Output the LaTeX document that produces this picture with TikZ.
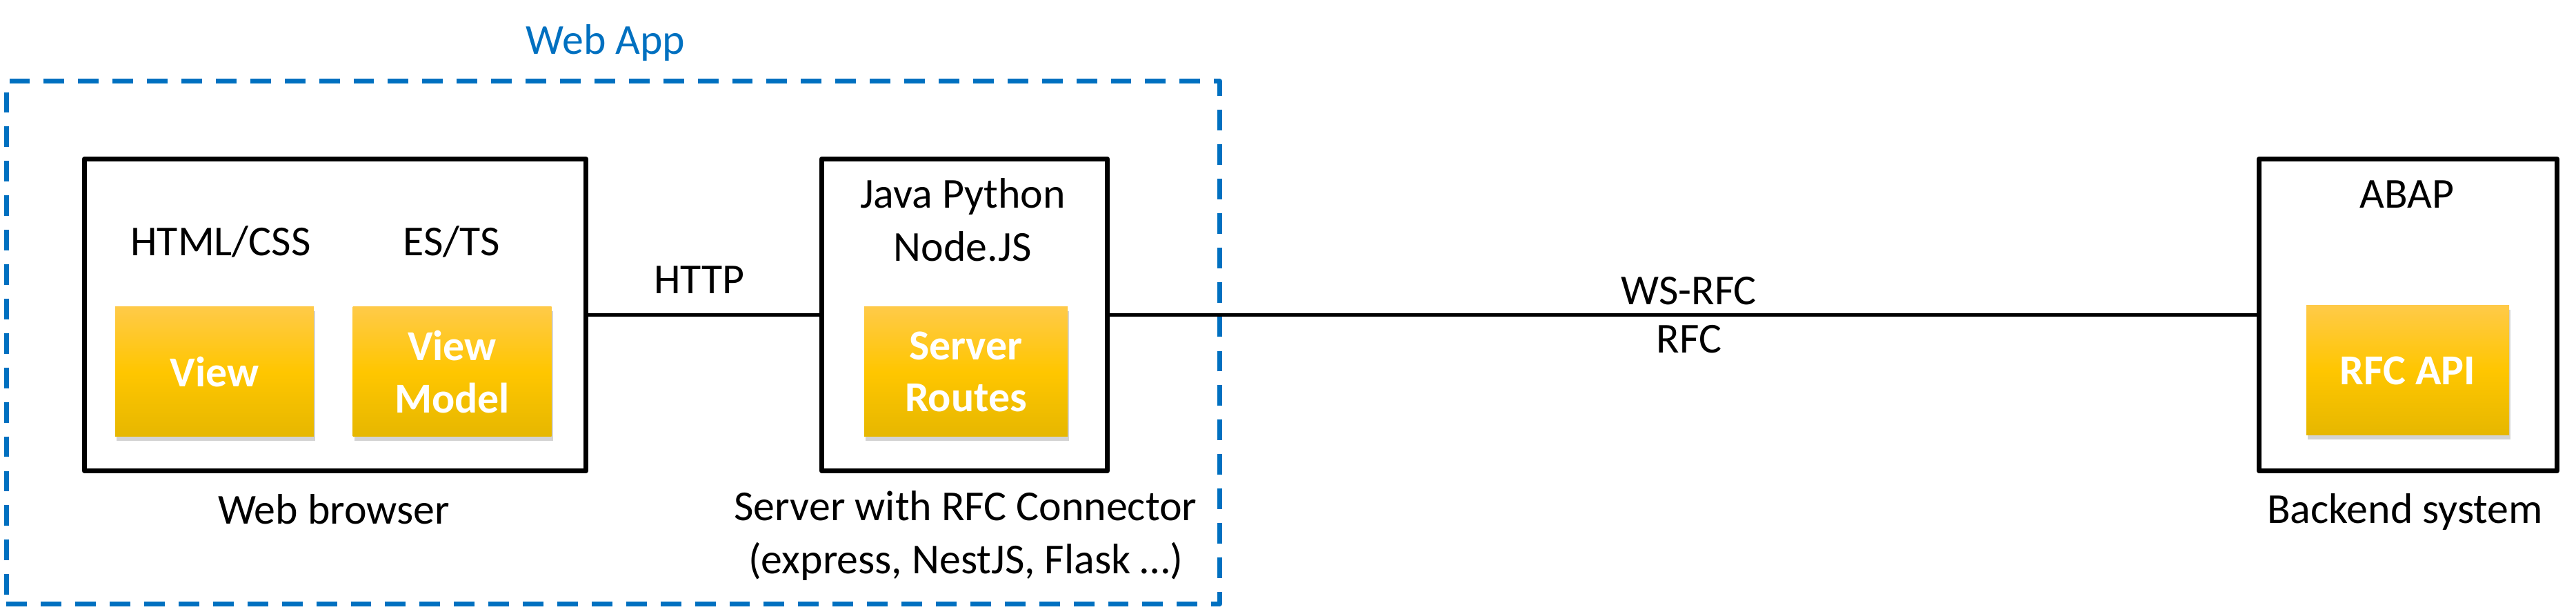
\documentclass[tikz,border=0pt]{standalone}
\usepackage{fontspec}
\setmainfont{Carlito}
\usetikzlibrary{shadows}
\definecolor{appblue}{RGB}{0,112,192}
\definecolor{ytop}{RGB}{255,202,72}
\definecolor{ymid}{RGB}{255,198,0}
\definecolor{ybot}{RGB}{230,183,0}
\begin{document}
\begin{tikzpicture}[font=\fontsize{17.6pt}{22pt}\selectfont, line join=round,
	khung/.style={draw, line width=2.2pt, inner sep=0pt, minimum height=4.52cm},
	khoi/.style={inner sep=0pt, minimum width=2.88cm, minimum height=1.88cm,
		top color=ytop, bottom color=ybot, middle color=ymid, text=white, align=center,
		font=\fontsize{17.6pt}{21.5pt}\selectfont\bfseries,
		drop shadow={shadow xshift=0.02cm, shadow yshift=-0.06cm, opacity=0.35}},
	nhan/.style={anchor=base, align=center}]
			\useasboundingbox (0,0) rectangle (37.35,8.89);
			
			% Khung Web App (net dut)
			\node[draw=appblue, line width=1.8pt, dash pattern=on 8.5pt off 5.7pt, inner sep=0pt,
				minimum width=17.59cm, minimum height=7.58cm] (webapp) at (8.89,3.925) {};
			\node[nhan, text=appblue] (webapptxt) at (8.78,8.10) {Web App};
			
			% Cac khung lon
			\node[khung, minimum width=7.27cm] (browser) at (4.86,4.325) {};
			\node[khung, minimum width=4.14cm] (server) at (13.985,4.325) {};
			\node[khung, minimum width=4.32cm] (backend) at (34.915,4.325) {};
			
			% Cac khoi mau vang
			\node[khoi] (view) at (3.11,3.50) {View};
			\node[khoi] (viewmodel) at (6.555,3.50) {View\\Model};
			\node[khoi, minimum width=2.95cm] (routes) at (14.005,3.50) {Server\\Routes};
			\node[khoi, minimum width=2.94cm] (rfcapi) at (34.91,3.52) {RFC API};
			
			% Nhan chu (dong cuoi nam tren toa do)
			\node[nhan] (html) at (3.20,5.18) {HTML/CSS};
			\node[nhan] (ests) at (6.55,5.18) {ES/TS};
			\node[nhan] (lang) at (13.96,5.10) {Java Python\\Node.JS};
			\node[nhan] (abap) at (34.90,5.87) {ABAP};
			\node[nhan] (browsertxt) at (4.84,1.29) {Web browser};
			\node[nhan] (servertxt) at (14.00,0.57) {Server with RFC Connector\\(express, NestJS, Flask …)};
			\node[nhan] (backendtxt) at (34.87,1.30) {Backend system};
			
			% Duong noi
			\draw[line width=1.6pt] (browser.east) -- node[above=0.16cm, pos=0.48] (http) {HTTP} (server.west);
			\draw[line width=1.6pt] (server.east) -- node[above, pos=0.505] (wsrfc) {WS-RFC}
				node[below, pos=0.505] (rfc) {RFC} (backend.west);
\end{tikzpicture}
\end{document}
